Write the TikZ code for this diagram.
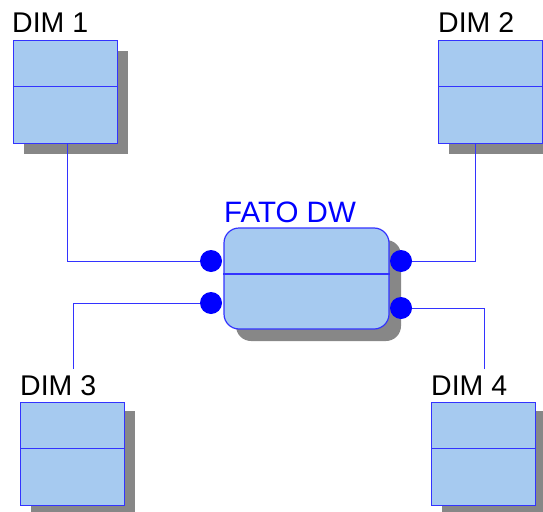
\documentclass[tikz,border=0pt]{standalone}
\usepackage{fontspec}
\setmainfont{Liberation Sans}
\usetikzlibrary{calc}
\definecolor{boxfill}{RGB}{166,202,240}
\definecolor{boxline}{RGB}{51,51,255}
\definecolor{shadowc}{RGB}{135,135,135}
\definecolor{dotc}{RGB}{0,0,255}
\tikzset{
  dimbox/.style={draw=boxline, line width=1.2pt, fill=boxfill, minimum width=104pt, minimum height=103pt, inner sep=0pt, anchor=north west},
  dimshadow/.style={fill=shadowc, draw=none, minimum width=104pt, minimum height=103pt, inner sep=0pt, anchor=north west},
  fatobox/.style={draw=boxline, line width=1.2pt, fill=boxfill, rounded corners=15pt, minimum width=165pt, minimum height=101pt, inner sep=0pt},
  fatoshadow/.style={fill=shadowc, draw=none, rounded corners=15pt, minimum width=165pt, minimum height=101pt, inner sep=0pt},
  dimlabel/.style={anchor=base west, inner sep=0pt, font=\fontsize{28.5}{32}\selectfont},
  conn/.style={draw=boxline, line width=0.9pt},
  port/.style={circle, fill=dotc, draw=none, minimum size=22pt, inner sep=0pt},
  divider/.style={draw=boxline, line width=1.2pt}
}
\begin{document}
\begin{tikzpicture}[x=1pt,y=-1pt]
\useasboundingbox (0,0) rectangle (543,511);
% shadows
\node[dimshadow] (s1) at (24,51) {};
\node[dimshadow] (s2) at (449,51) {};
\node[dimshadow] (s3) at (31,411) {};
\node[dimshadow] (s4) at (442,411) {};
\node[fatoshadow] (sf) at (318.5,290.5) {};
% boxes
\node[dimbox] (d1) at (13,40) {};
\node[dimbox] (d2) at (438,40) {};
\node[dimbox] (d3) at (20,402) {};
\node[dimbox] (d4) at (431,402) {};
\node[fatobox] (f) at (306.5,278.5) {};
% dividers
\foreach \b in {d1,d2,d3,d4}{
  \draw[divider] ($(\b.north west)!0.45!(\b.south west)$) -- ($(\b.north east)!0.45!(\b.south east)$);
}
\draw[divider] ($(f.north west)!0.455!(f.south west)$) -- ($(f.north east)!0.455!(f.south east)$);
% labels
\node[dimlabel] (l1) at (12,33) {DIM 1};
\node[dimlabel] (l2) at (438,33) {DIM 2};
\node[dimlabel] (l3) at (20,395) {DIM 3};
\node[dimlabel] (l4) at (431,395) {DIM 4};
\node[dimlabel, text=dotc, font=\fontsize{29.5}{33}\selectfont] (lf) at (224,222) {FATO DW};
% ports
\node[port] (p1) at (211,261) {};
\node[port] (p3) at (211,303) {};
\node[port] (p2) at (401,261) {};
\node[port] (p4) at (401,308) {};
% connector free ends
\coordinate (c1) at (67,143);
\coordinate (c2) at (475,143);
\coordinate (c3) at (73,369);
\coordinate (c4) at (484,369);
\draw[conn] (c1) |- (p1.west);
\draw[conn] (c2) |- (p2.east);
\draw[conn] (c3) |- (p3.west);
\draw[conn] (c4) |- (p4.east);
\end{tikzpicture}
\end{document}
